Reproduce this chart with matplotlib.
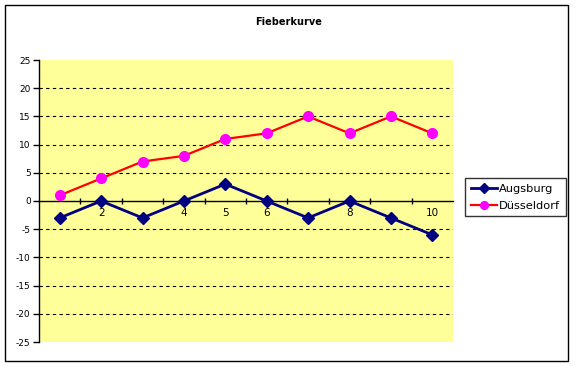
import matplotlib
matplotlib.use("Agg")
import matplotlib.pyplot as plt
from matplotlib.patches import Rectangle

plt.rcParams["axes.unicode_minus"] = False

# data
categories = [1, 2, 3, 4, 5, 6, 7, 8, 9, 10]
augsburg = [-3, 0, -3, 0, 3, 0, -3, 0, -3, -6]
duesseldorf = [1, 4, 7, 8, 11, 12, 15, 12, 15, 12]
x_labels = [2, 4, 5, 6, 8, 10]
y_ticks = [-25, -20, -15, -10, -5, 0, 5, 10, 15, 20, 25]

W, H = 578, 366
fig = plt.figure(figsize=(W / 100, H / 100), dpi=100)
fig.patch.set_facecolor("white")

# outer chart border
fig.patches.append(Rectangle((5 / W, 1 - 361 / H), 563 / W, 356 / H,
                             transform=fig.transFigure, fill=False,
                             edgecolor="black", linewidth=1.0))

ax = fig.add_axes([39 / W, 1 - 342 / H, 414 / W, 282 / H])
ax.set_facecolor("#FFFF99")

ax.set_xlim(0.5, 10.5)
ax.set_ylim(-25, 25)

for y in y_ticks:
    if y not in (-25, 0, 25):
        ax.axhline(y, color="black", linestyle=(0, (3, 3)), linewidth=0.8, zorder=1)

ax.plot(categories, augsburg, color="#000080", linewidth=2, marker="D",
        markersize=6, markerfacecolor="#000080", markeredgecolor="#000080",
        label="Augsburg", zorder=3)
ax.plot(categories, duesseldorf, color="#FF0000", linewidth=1.6, marker="o",
        markersize=7, markerfacecolor="#FF00FF", markeredgecolor="#FF00FF",
        label="Düsseldorf", zorder=3)

for s in ["top", "right"]:
    ax.spines[s].set_visible(False)
ax.spines["left"].set_linewidth(1.0)
ax.spines["bottom"].set_position(("data", 0))
ax.spines["bottom"].set_linewidth(1.0)

ax.set_yticks(y_ticks)
ax.tick_params(axis="y", direction="out", length=4, width=1, labelsize=6.5, pad=2)

ax.set_xticks(x_labels)
ax.set_xticklabels([str(v) for v in x_labels])
ax.set_xticks([c + 0.5 for c in categories[:-1]], minor=True)
ax.tick_params(axis="x", which="major", length=0, labelsize=7.5, pad=5)
ax.tick_params(axis="x", which="minor", direction="inout", length=4, width=1)

fig.text(289 / W, 1 - 22 / H, "Fieberkurve", ha="center", va="center",
         fontsize=7, fontweight="bold")

leg = fig.legend(loc="upper left", bbox_to_anchor=(465 / W, 1 - 178 / H),
                 bbox_transform=fig.transFigure, fontsize=8.2, frameon=True,
                 fancybox=False, edgecolor="black", handlelength=2.3,
                 borderpad=0.5, labelspacing=0.6, handletextpad=0.2,
                 borderaxespad=0, markerscale=0.8)
leg.get_frame().set_linewidth(1.0)

fig.savefig("out.png", dpi=100)
